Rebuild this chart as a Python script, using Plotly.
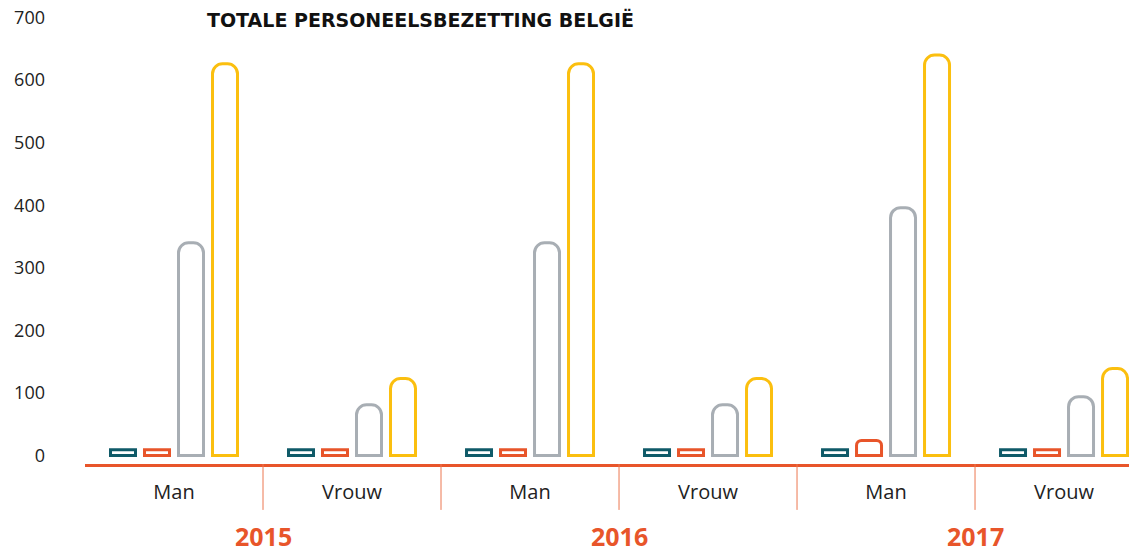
import plotly.graph_objects as go

years = ["2015", "2016", "2017"]
genders = ["Man", "Vrouw"]
categories = [f"{y} {g}" for y in years for g in genders]
tick_labels = [g for y in years for g in genders]

series_names = ["Reeks 1", "Reeks 2", "Reeks 3", "Reeks 4"]
series_colors = ["#0f5a68", "#e8552a", "#a8aeb4", "#fbbf0f"]
series_values = [
    [9, 9, 9, 9, 9, 9],
    [9, 9, 9, 9, 24, 9],
    [340, 81, 340, 81, 396, 94],
    [626, 123, 626, 123, 640, 139],
]
y_ticks = [0, 100, 200, 300, 400, 500, 600, 700]

fig = go.Figure()
for k, (name, color, vals) in enumerate(zip(series_names, series_colors, series_values)):
    # tiny bars are drawn square, taller bars with rounded tops
    small = [v if v < 15 else None for v in vals]
    tall = [v if v >= 15 else None for v in vals]
    for part, radius in ((small, 0), (tall, 10 if k >= 2 else 5)):
        if all(p is None for p in part):
            continue
        fig.add_trace(go.Bar(
            x=categories, y=part, name=name, offsetgroup=str(k),
            marker=dict(color="white", line=dict(color=color, width=3),
                        cornerradius=radius),
            hoverinfo="x+y",
        ))

# category dividers below the axis
for i in range(len(categories) - 1):
    fig.add_shape(type="line", xref="x", yref="paper",
                  x0=i + 0.5, x1=i + 0.5, y0=0, y1=-0.1,
                  line=dict(color="#ec7650", width=1))

# year labels
for j, yr in enumerate(years):
    fig.add_annotation(x=2 * j + 0.5, xref="x", y=-(536 - 464) / 459, yref="paper",
                       text=f"<b>{yr}</b>", showarrow=False,
                       font=dict(size=25, color="#e8552a", family="Open Sans"),
                       xanchor="center", yanchor="middle")

fig.update_layout(
    width=1129, height=552,
    margin=dict(l=85, r=0, t=5, b=88),
    paper_bgcolor="white", plot_bgcolor="white",
    showlegend=False,
    barmode="group", bargap=0.236, bargroupgap=0.265,
    title=dict(text="<b>TOTALE PERSONEELSBEZETTING BELGIË</b>",
               x=207 / 1129, xanchor="left", y=1 - 20 / 552, yanchor="middle",
               font=dict(size=19, color="#111", family="DejaVu Sans")),
    font=dict(family="Open Sans", color="#222"),
)
fig.update_xaxes(
    type="category", range=[-0.5, 5.365],
    tickvals=categories, ticktext=tick_labels,
    showline=True, linecolor="#e8552a", linewidth=3,
    showgrid=False, zeroline=False, ticks="",
    tickfont=dict(size=20, color="#222", family="Open Sans"),
    ticklabelstandoff=8,
)
fig.update_yaxes(
    range=[-13.6, 720], tickvals=y_ticks,
    showline=False, showgrid=False, zeroline=False, ticks="",
    tickfont=dict(size=18, color="#222", family="Open Sans"),
    ticklabelstandoff=39,
)

fig.write_html("out.html", config={"displayModeBar": False},
               post_script="document.body.style.margin='0';")
